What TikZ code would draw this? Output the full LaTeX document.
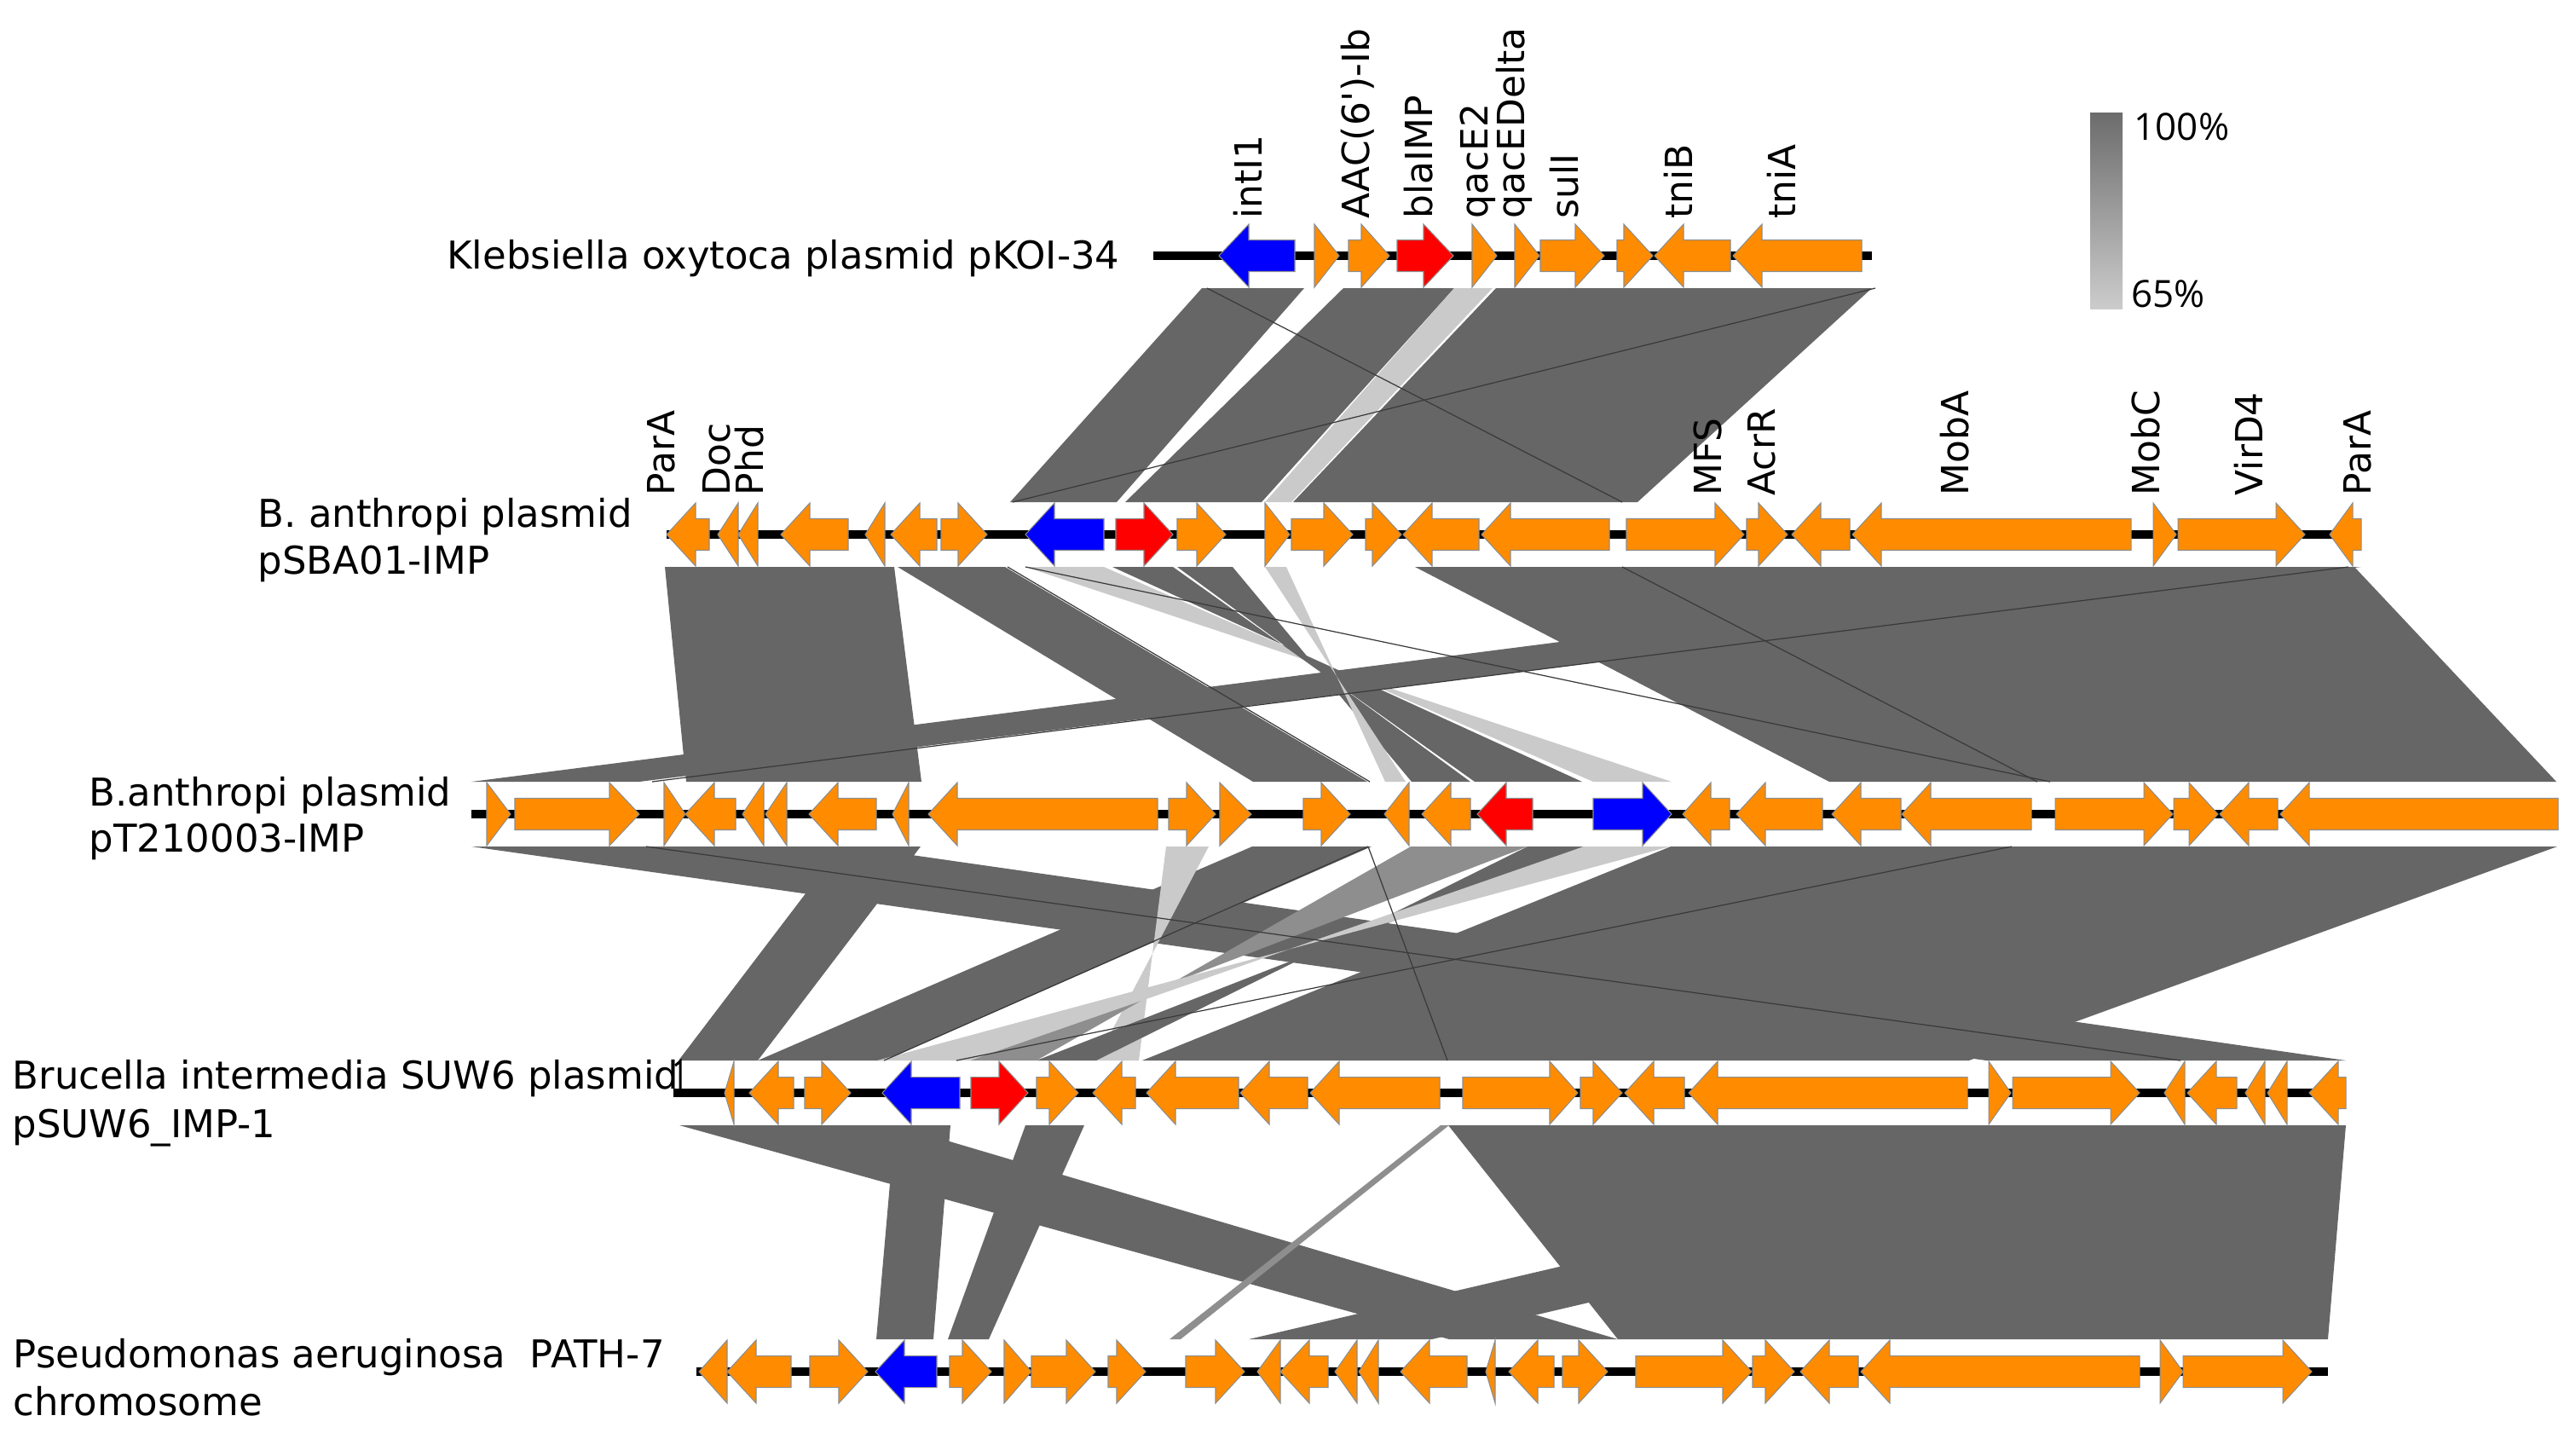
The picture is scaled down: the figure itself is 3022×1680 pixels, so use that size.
\documentclass[tikz,border=0pt]{standalone}
\usepackage{fontspec}
\setmainfont{DejaVu Sans}
\newfontfamily\legfont{Open Sans}
\definecolor{gorange}{HTML}{FF8C00}
\definecolor{gblue}{HTML}{0000FF}
\definecolor{gred}{HTML}{FF0000}
\definecolor{bdark}{HTML}{666666}
\definecolor{bmed}{HTML}{8E8E8E}
\definecolor{blight}{HTML}{CACACA}
\definecolor{seamc}{HTML}{3A3A3A}
\newcommand{\rgene}[5]{\filldraw[gene,fill=#5] (#2,#1-18.5) -- (#3,#1-18.5) -- (#3,#1-37) -- (#4,#1) -- (#3,#1+37) -- (#3,#1+18.5) -- (#2,#1+18.5) -- cycle;}
\newcommand{\lgene}[5]{\filldraw[gene,fill=#5] (#2,#1) -- (#3,#1-37) -- (#3,#1-18.5) -- (#4,#1-18.5) -- (#4,#1+18.5) -- (#3,#1+18.5) -- (#3,#1+37) -- cycle;}
\newcommand{\simband}[7]{\fill[#7] (#3,#1) -- (#4,#1) -- (#5,#2) -- (#6,#2) -- cycle;}
\tikzset{
  gene/.style={draw=black!45, line width=0.3pt},
  trackline/.style={line width=1mm, black},
  dk/.style={fill=bdark},
  md/.style={fill=bmed},
  lt/.style={fill=blight},
  seamline/.style={draw=seamc, line width=0.35pt},
  genelabel/.style={rotate=90, anchor=mid west, inner sep=0pt, font=\fontsize{12.5}{15}\selectfont},
  trklabel/.style={anchor=base west, inner sep=0pt, font=\fontsize{12.8}{15}\selectfont},
  legtext/.style={anchor=base west, inner sep=0pt, font=\legfont\fontsize{12.5}{15}\selectfont},
}
\begin{document}
\begin{tikzpicture}[x=0.1mm, y=-0.1mm]
\useasboundingbox (0,0) rectangle (3022,1680);

% ---------------- similarity bands 1-2
\simband{338}{589}{1410}{1530}{1310}{1185}{dk}
\simband{338}{589}{1576}{1706}{1480}{1320}{dk}
\simband{338}{589}{1706}{1751}{1515}{1484}{lt}
\simband{338}{589}{1755}{2196}{1921}{1517}{dk}
\draw[seamline] (1416,338) -- (1903,589);
\draw[seamline] (2200,338) -- (1188,589);

% ---------------- similarity bands 2-3
\simband{665}{917}{1203}{1295}{1869}{1961}{lt}
\simband{665}{917}{780}{1049}{1081}{805}{dk}
\simband{665}{917}{1053}{1179}{1604}{1470}{dk}
\simband{665}{917}{1660}{2762}{2999}{2146}{dk}
\simband{665}{917}{2515}{2770}{750}{553}{dk}
\simband{665}{917}{1305}{1376}{1730}{1856}{dk}
\simband{665}{917}{1381}{1446}{1656}{1725}{dk}
\simband{665}{917}{1484}{1509}{1625}{1649}{lt}
\draw[seamline] (1182,665) -- (1607,917);
\draw[seamline] (1203,665) -- (2405,917);
\draw[seamline] (1903,665) -- (2390,917);
\draw[seamline] (2755,665) -- (765,917);

% ---------------- similarity bands 3-4
\simband{993}{1244}{1960}{3000}{2310}{1340}{dk}
\simband{993}{1244}{553}{1000}{2752}{2330}{dk}
\simband{993}{1244}{987}{1080}{889}{796}{dk}
\simband{993}{1244}{1469}{1609}{1037}{889}{dk}
\simband{993}{1244}{1368}{1418}{1286}{1336}{lt}
\simband{993}{1244}{1655}{1792}{1138}{1216}{md}
\simband{993}{1244}{1792}{1858}{1216}{1286}{dk}
\simband{993}{1244}{1858}{1959}{1029}{1138}{lt}
\draw[seamline] (758,993) -- (2558,1244);
\draw[seamline] (1605,993) -- (1698,1244);
\draw[seamline] (2360,993) -- (1122,1244);
\draw[seamline] (1605,993) -- (1037,1244);

% ---------------- similarity bands 4-5
\simband{1320}{1571}{1699}{2752}{2731}{1898}{dk}
\simband{1320}{1571}{2540}{2752}{1680}{1465}{dk}
\simband{1320}{1571}{797}{1050}{1898}{1700}{dk}
\simband{1320}{1571}{1050}{1115}{1095}{1028}{dk}
\simband{1320}{1571}{1203}{1272}{1160}{1112}{dk}
\simband{1320}{1571}{1690}{1700}{1385}{1372}{md}

% ---------------- track lines
\draw[trackline] (1353,300) -- (2196,300);
\draw[trackline] (782,627) -- (2770,627);
\draw[trackline] (553,955) -- (3001,955);
\draw[trackline] (790,1282) -- (2752,1282);
\draw[trackline] (817,1609) -- (2731,1609);
\draw[line width=0.3mm] (792,1250) -- (798,1245) -- (798,1282);

% ---------------- track 1 genes
\lgene{300}{1430}{1465}{1519}{gblue}
\rgene{300}{1542}{1542}{1571}{gorange}
\rgene{300}{1582}{1597}{1630}{gorange}
\rgene{300}{1639}{1670}{1705}{gred}
\rgene{300}{1727}{1727}{1756}{gorange}
\rgene{300}{1777}{1777}{1806}{gorange}
\rgene{300}{1807}{1848}{1882}{gorange}
\rgene{300}{1897}{1905}{1939}{gorange}
\lgene{300}{1941}{1975}{2030}{gorange}
\lgene{300}{2033}{2067}{2184}{gorange}

% ---------------- track 2 genes
\lgene{627}{782}{816}{832}{gorange}
\lgene{627}{842}{866}{866}{gorange}
\lgene{627}{866}{889}{889}{gorange}
\lgene{627}{916}{950}{995}{gorange}
\lgene{627}{1015}{1038}{1038}{gorange}
\lgene{627}{1045}{1079}{1099}{gorange}
\rgene{627}{1104}{1124}{1158}{gorange}
\lgene{627}{1203}{1237}{1295}{gblue}
\rgene{627}{1309}{1342}{1376}{gred}
\rgene{627}{1381}{1404}{1438}{gorange}
\rgene{627}{1484}{1484}{1513}{gorange}
\rgene{627}{1515}{1553}{1587}{gorange}
\rgene{627}{1602}{1610}{1644}{gorange}
\lgene{627}{1646}{1680}{1735}{gorange}
\lgene{627}{1738}{1772}{1888}{gorange}
\rgene{627}{1908}{2012}{2046}{gorange}
\rgene{627}{2049}{2063}{2097}{gorange}
\lgene{627}{2102}{2136}{2170}{gorange}
\lgene{627}{2173}{2207}{2500}{gorange}
\rgene{627}{2526}{2526}{2553}{gorange}
\rgene{627}{2555}{2670}{2704}{gorange}
\lgene{627}{2733}{2760}{2770}{gorange}

% ---------------- track 3 genes
\rgene{955}{571}{571}{599}{gorange}
\rgene{955}{604}{715}{750}{gorange}
\rgene{955}{779}{779}{804}{gorange}
\lgene{955}{804}{838}{863}{gorange}
\lgene{955}{871}{896}{896}{gorange}
\lgene{955}{898}{923}{923}{gorange}
\lgene{955}{949}{983}{1028}{gorange}
\lgene{955}{1047}{1066}{1066}{gorange}
\lgene{955}{1089}{1123}{1358}{gorange}
\rgene{955}{1371}{1392}{1426}{gorange}
\rgene{955}{1431}{1431}{1468}{gorange}
\rgene{955}{1529}{1550}{1584}{gorange}
\lgene{955}{1624}{1653}{1653}{gorange}
\lgene{955}{1668}{1702}{1725}{gorange}
\lgene{955}{1733}{1767}{1798}{gred}
\rgene{955}{1869}{1927}{1961}{gblue}
\lgene{955}{1974}{2007}{2029}{gorange}
\lgene{955}{2037}{2071}{2138}{gorange}
\lgene{955}{2149}{2183}{2230}{gorange}
\lgene{955}{2231}{2265}{2383}{gorange}
\rgene{955}{2411}{2515}{2549}{gorange}
\rgene{955}{2550}{2568}{2602}{gorange}
\lgene{955}{2604}{2638}{2672}{gorange}
\lgene{955}{2675}{2709}{3001}{gorange}

% ---------------- track 4 genes
\lgene{1282}{850}{861}{861}{gorange}
\lgene{1282}{879}{913}{931}{gorange}
\rgene{1282}{944}{964}{998}{gorange}
\lgene{1282}{1035}{1069}{1126}{gblue}
\rgene{1282}{1139}{1172}{1206}{gred}
\rgene{1282}{1216}{1231}{1265}{gorange}
\lgene{1282}{1282}{1316}{1332}{gorange}
\lgene{1282}{1345}{1379}{1453}{gorange}
\lgene{1282}{1455}{1489}{1534}{gorange}
\lgene{1282}{1537}{1571}{1689}{gorange}
\rgene{1282}{1716}{1818}{1851}{gorange}
\rgene{1282}{1854}{1869}{1903}{gorange}
\lgene{1282}{1906}{1940}{1976}{gorange}
\lgene{1282}{1981}{2015}{2308}{gorange}
\rgene{1282}{2333}{2333}{2359}{gorange}
\rgene{1282}{2361}{2476}{2510}{gorange}
\lgene{1282}{2539}{2563}{2563}{gorange}
\lgene{1282}{2566}{2600}{2624}{gorange}
\lgene{1282}{2634}{2657}{2657}{gorange}
\lgene{1282}{2660}{2683}{2683}{gorange}
\lgene{1282}{2709}{2743}{2752}{gorange}

% ---------------- track 5 genes
\lgene{1609}{820}{853}{853}{gorange}
\lgene{1609}{853}{887}{928}{gorange}
\rgene{1609}{950}{984}{1018}{gorange}
\lgene{1609}{1027}{1061}{1099}{gblue}
\rgene{1609}{1114}{1129}{1163}{gorange}
\rgene{1609}{1178}{1178}{1210}{gorange}
\rgene{1609}{1210}{1251}{1285}{gorange}
\rgene{1609}{1300}{1310}{1344}{gorange}
\rgene{1609}{1391}{1426}{1460}{gorange}
\lgene{1609}{1475}{1502}{1502}{gorange}
\lgene{1609}{1502}{1536}{1558}{gorange}
\lgene{1609}{1566}{1592}{1592}{gorange}
\lgene{1609}{1594}{1617}{1617}{gorange}
\lgene{1609}{1643}{1677}{1721}{gorange}
\lgene{1609}{1743}{1754}{1754}{gorange}
\lgene{1609}{1770}{1804}{1823}{gorange}
\rgene{1609}{1833}{1852}{1886}{gorange}
\rgene{1609}{1919}{2021}{2055}{gorange}
\rgene{1609}{2056}{2071}{2105}{gorange}
\lgene{1609}{2112}{2146}{2180}{gorange}
\lgene{1609}{2183}{2217}{2510}{gorange}
\rgene{1609}{2534}{2534}{2561}{gorange}
\rgene{1609}{2561}{2678}{2712}{gorange}

% ---------------- gene labels track 1
\node[genelabel] (l1a) at (1471,257) {intI1};
\node[genelabel] (l1b) at (1597,257) {AAC(6\textquotesingle)-Ib};
\node[genelabel] (l1c) at (1671,257) {blaIMP};
\node[genelabel] (l1d) at (1736,257) {qacE2};
\node[genelabel] (l1e) at (1779,257) {qacEDelta};
\node[genelabel] (l1f) at (1842,257) {sulI};
\node[genelabel] (l1g) at (1976,257) {tniB};
\node[genelabel] (l1h) at (2097,257) {tniA};

% ---------------- gene labels track 2
\node[genelabel] (l2a) at (782,582) {ParA};
\node[genelabel] (l2b) at (847,582) {Doc};
\node[genelabel] (l2c) at (886,582) {Phd};
\node[genelabel] (l2d) at (2010,582) {MFS};
\node[genelabel] (l2e) at (2073,582) {AcrR};
\node[genelabel] (l2f) at (2300,582) {MobA};
\node[genelabel] (l2g) at (2524,582) {MobC};
\node[genelabel] (l2h) at (2645,582) {VirD4};
\node[genelabel] (l2i) at (2772,582) {ParA};

% ---------------- track names
\node[trklabel, anchor=base east] (n1) at (1314,315) {Klebsiella oxytoca plasmid pKOI-34};
\node[trklabel] (n2a) at (302,618) {B. anthropi plasmid};
\node[trklabel] (n2b) at (302,673) {pSBA01-IMP};
\node[trklabel] (n3a) at (104,945) {B.anthropi plasmid};
\node[trklabel] (n3b) at (104,999) {pT210003-IMP};
\node[trklabel] (n4a) at (14,1277) {Brucella intermedia SUW6 plasmid};
\node[trklabel] (n4b) at (14,1334) {pSUW6\_IMP-1};
\node[trklabel] (n5a) at (15,1604) {Pseudomonas aeruginosa\ \ PATH-7};
\node[trklabel] (n5b) at (15,1660) {chromosome};

% ---------------- legend
\shade[top color={rgb,255:red,108;green,108;blue,108}, bottom color={rgb,255:red,204;green,204;blue,204}] (2452,132) rectangle (2490,362);
\node[legtext] (lg1) at (2503,164) {100\%};
\node[legtext] (lg2) at (2500,360) {65\%};
\end{tikzpicture}
\end{document}
